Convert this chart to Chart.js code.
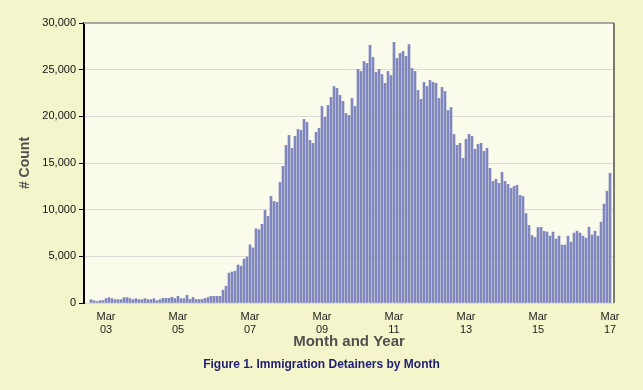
<!DOCTYPE html>
<html>
<head>
<meta charset="utf-8">
<script src="https://cdn.jsdelivr.net/npm/chart.js@4.4.0/dist/chart.umd.min.js"></script>
<style>
  html, body { margin: 0; padding: 0; background: #f5f5cc; }
  #wrap { width: 643px; height: 390px; }
</style>
</head>
<body>
<div id="wrap"><canvas id="detainerChart" width="643" height="390"></canvas></div>
<script>
// Immigration detainers per month, Oct 2002 through Mar 2017
const startYear = 2002;
const startMonth = 10;
const counts = [
  350, 250, 150, 250, 250, 480, 580, 470, 360, 360, 360, 580,
  580, 470, 360, 470, 360, 360, 470, 360, 360, 470, 250, 360,
  500, 500, 500, 620, 480, 720, 470, 470, 830, 400, 600, 380,
  380, 380, 480, 600, 720, 720, 720, 720, 1370, 1800, 3200, 3320,
  3420, 4070, 3950, 4700, 4930, 6230, 5900, 7960, 7850, 8430, 9925, 9280,
  11420, 10890, 10780, 12920, 14640, 16890, 17960, 16560, 17850, 18600, 18490, 19670,
  19350, 17420, 17100, 18280, 18710, 21060, 19890, 21170, 22030, 23200, 22990, 22240,
  21600, 20310, 20100, 21920, 21060, 25030, 24810, 25880, 25670, 27600, 26310, 24700,
  25030, 24490, 23530, 24810, 24380, 27920, 26200, 26740, 26950, 26420, 27700, 25130,
  24810, 22780, 21820, 23640, 23200, 23850, 23640, 23530, 21920, 23100, 22670, 20630,
  20950, 18060, 16890, 17100, 15490, 17540, 18080, 17860, 16470, 17000, 17110, 16250,
  16580, 14430, 13030, 13250, 12820, 14000, 13030, 12710, 12280, 12490, 12600, 11530,
  11420, 9590, 8310, 7230, 7020, 8090, 8110, 7680, 7600, 7170, 7600, 6850,
  7170, 6210, 6210, 7170, 6530, 7490, 7700, 7490, 7170, 6960, 8130, 7280,
  7700, 7170, 8670, 10590, 11980, 13900
];
const tickMonth = 'Mar';
const tickYears = ['03', '05', '07', '09', '11', '13', '15', '17'];
const yTicks = [0, 5000, 10000, 15000, 20000, 25000, 30000];

// month index of each labelled March
const tickIndex = tickYears.map(y => (2000 + Number(y) - startYear) * 12 + (3 - startMonth));

const points = counts.map((v, i) => ({ x: i, y: v }));

const plotFrame = {
  id: 'plotFrame',
  beforeDraw(chart) {
    const { ctx, chartArea: a } = chart;
    ctx.save();
    ctx.fillStyle = '#f5f5cc';
    ctx.fillRect(0, 0, chart.width, chart.height);
    ctx.fillStyle = '#fbfbec';
    ctx.fillRect(a.left, a.top, a.right - a.left, a.bottom - a.top);
    ctx.restore();
  },
  afterDraw(chart) {
    const { ctx, chartArea: a } = chart;
    ctx.save();
    ctx.strokeStyle = '#a8a8a0';
    ctx.lineWidth = 2;
    ctx.beginPath();
    ctx.moveTo(a.left, a.top);
    ctx.lineTo(a.right, a.top);
    ctx.stroke();
    ctx.strokeStyle = '#505050';
    ctx.lineWidth = 1.5;
    ctx.beginPath();
    ctx.moveTo(a.right, a.top);
    ctx.lineTo(a.right, a.bottom);
    ctx.stroke();
    // figure caption
    ctx.fillStyle = '#1e1e78';
    ctx.font = 'bold 12px "Liberation Sans", Arial, sans-serif';
    ctx.textAlign = 'center';
    ctx.textBaseline = 'middle';
    ctx.fillText('Figure 1. Immigration Detainers by Month', chart.width / 2, 365);
    ctx.restore();
  }
};

new Chart(document.getElementById('detainerChart'), {
  type: 'bar',
  data: {
    datasets: [{
      label: '# Count',
      data: points,
      backgroundColor: '#7f87bc',
      barThickness: 2
    }]
  },
  options: {
    responsive: false,
    animation: false,
    layout: { padding: { top: 23, right: 29, left: 0, bottom: 0 } },
    plugins: {
      legend: { display: false },
      tooltip: { enabled: false }
    },
    scales: {
      x: {
        type: 'linear',
        offset: false,
        // 3 px per month across the 530 px plot
        min: -7 / 3,
        max: -7 / 3 + 530 / 3,
        grid: { display: false, drawTicks: false },
        border: { display: false },
        afterBuildTicks: scale => { scale.ticks = tickIndex.map(v => ({ value: v })); },
        afterFit: scale => { scale.height = 87; },
        ticks: {
          autoSkip: false,
          maxRotation: 0,
          padding: 7,
          color: '#222',
          font: { family: '"Liberation Sans", Arial, sans-serif', size: 11 },
          callback: v => [tickMonth, tickYears[tickIndex.indexOf(v)]]
        },
        title: {
          display: true,
          text: 'Month and Year',
          color: '#505050',
          font: { family: '"Liberation Sans", Arial, sans-serif', size: 15, weight: 'bold' },
          padding: { top: 0, bottom: 39 }
        }
      },
      y: {
        min: 0,
        max: 30000,
        afterBuildTicks: scale => { scale.ticks = yTicks.map(v => ({ value: v })); },
        afterFit: scale => { scale.width = 84; },
        grid: { color: '#dcdcd4', lineWidth: 1, tickColor: '#000', tickLength: 5 },
        border: { color: '#000', width: 2 },
        ticks: {
          padding: 3,
          color: '#111',
          font: { family: '"Liberation Sans", Arial, sans-serif', size: 11 },
          callback: v => v.toLocaleString('en-US')
        },
        title: {
          display: true,
          text: '# Count',
          color: '#505050',
          font: { family: '"Liberation Sans", Arial, sans-serif', size: 14, weight: 'bold' },
          padding: { top: 17, bottom: 0 }
        }
      }
    }
  },
  plugins: [plotFrame]
});
</script>
</body>
</html>
